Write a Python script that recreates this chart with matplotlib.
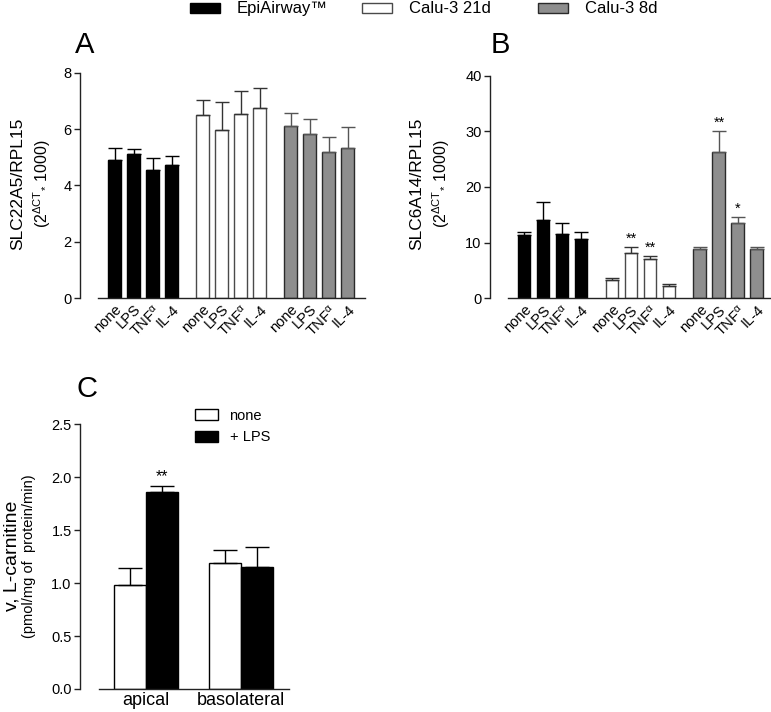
import matplotlib
matplotlib.use('Agg')
import matplotlib.pyplot as plt
from matplotlib.patches import Rectangle
import numpy as np

plt.rcParams['font.family'] = ['Liberation Sans', 'DejaVu Sans']
plt.rcParams['mathtext.fontset'] = 'custom'
plt.rcParams['mathtext.rm'] = 'Liberation Sans'
plt.rcParams['mathtext.it'] = 'Liberation Sans'
plt.rcParams['mathtext.default'] = 'regular'

# data
treatments = ['none', 'LPS', 'TNF$^{α}$', 'IL-4']
groups = ['EpiAirway™', 'Calu-3 21d', 'Calu-3 8d']

slc22a5_mean = [[4.90, 5.12, 4.54, 4.74],
                [6.51, 5.98, 6.52, 6.76],
                [6.09, 5.82, 5.19, 5.32]]
slc22a5_err = [[0.44, 0.18, 0.43, 0.31],
               [0.51, 0.99, 0.82, 0.71],
               [0.47, 0.53, 0.51, 0.76]]

slc6a14_mean = [[11.4, 14.0, 11.5, 10.7],
                [3.2, 8.1, 7.1, 2.2],
                [8.8, 26.3, 13.5, 8.9]]
slc6a14_err = [[0.5, 3.3, 2.0, 1.2],
               [0.5, 1.1, 0.5, 0.3],
               [0.5, 3.8, 1.1, 0.4]]
slc6a14_stars = [['', '', '', ''],
                 ['', '**', '**', ''],
                 ['', '**', '*', '']]

sides = ['apical', 'basolateral']
carn_none = [0.98, 1.19]
carn_none_err = [0.16, 0.12]
carn_lps = [1.865, 1.15]
carn_lps_err = [0.055, 0.19]
carn_stars = ['**', '']

# styles
fills = ['black', 'white', '#8e8e8e']
edges = ['black', '#4a4a4a', '#2a2a2a']
errcols = ['black', '#333333', '#555555']
group_step = 4.63
W, H = 771, 712


def fig_rect(l, t, r, b):
    return [l / W, 1 - b / H, (r - l) / W, (b - t) / H]


def prism_axes(ax):
    ax.spines['top'].set_visible(False)
    ax.spines['right'].set_visible(False)
    for s in ['left', 'bottom']:
        ax.spines[s].set_linewidth(1.0)
        ax.spines[s].set_color('#222222')
    ax.tick_params(axis='y', direction='out', length=4, width=1.0, labelsize=10.5, pad=2, color='#222222')
    ax.tick_params(axis='x', length=0, pad=3)


def grouped_panel(ax, means, errs, stars, ymax, ystep, xlim, xstart):
    pos_all, lab_all = [], []
    for g in range(3):
        pos = g * group_step + np.arange(4)
        ax.bar(pos, means[g], width=0.68, color=fills[g], edgecolor=edges[g], linewidth=1.0,
               yerr=[np.zeros(4), errs[g]], capsize=5,
               error_kw=dict(ecolor=errcols[g], elinewidth=1.0, capthick=1.0))
        if stars is not None:
            for i in range(4):
                if stars[g][i]:
                    ax.annotate(stars[g][i], (pos[i], means[g][i] + errs[g][i]),
                                xytext=(0, 1), textcoords='offset points',
                                ha='center', va='bottom', fontsize=10.5)
        pos_all += list(pos)
        lab_all += treatments
    ax.set_xlim(*xlim)
    ax.set_ylim(0, ymax)
    ax.set_yticks(np.arange(0, ymax + 0.01, ystep))
    ax.spines['left'].set_bounds(0, ymax)
    ax.spines['bottom'].set_bounds(xstart, xlim[1])
    ax.set_xticks(pos_all)
    ax.set_xticklabels(lab_all, rotation=45, ha='right', va='top', rotation_mode='anchor', fontsize=10.5)
    prism_axes(ax)


fig = plt.figure(figsize=(7.71, 7.12), dpi=100)

axA = fig.add_axes(fig_rect(80, 72.7, 365, 298))
grouped_panel(axA, slc22a5_mean, slc22a5_err, None, 8, 2, (-1.82, 13.18), -0.87)
fig.text(18 / W, 1 - 184 / H, 'SLC22A5/RPL15', rotation=90, ha='center', va='center', fontsize=12.5)
fig.text(42 / W, 1 - 184 / H, '(2$^{\\Delta CT}$$_{*}$ 1000)', rotation=90, ha='center', va='center', fontsize=11.5)

axB = fig.add_axes(fig_rect(490, 75.7, 771, 298.3))
grouped_panel(axB, slc6a14_mean, slc6a14_err, slc6a14_stars, 40, 10, (-1.79, 13.0), -0.84)
fig.text(417 / W, 1 - 184 / H, 'SLC6A14/RPL15', rotation=90, ha='center', va='center', fontsize=12.5)
fig.text(441 / W, 1 - 184 / H, '(2$^{\\Delta CT}$$_{*}$ 1000)', rotation=90, ha='center', va='center', fontsize=11.5)

# panel C
axC = fig.add_axes(fig_rect(80, 424.3, 289, 689))
x = np.arange(len(sides))
bw = 0.337
axC.bar(x - bw / 2, carn_none, width=bw, color='white', edgecolor='black', linewidth=1.0,
        yerr=[np.zeros(2), carn_none_err], capsize=8.5,
        error_kw=dict(ecolor='black', elinewidth=1.0, capthick=1.0), label='none')
axC.bar(x + bw / 2, carn_lps, width=bw, color='black', edgecolor='black', linewidth=1.0,
        yerr=[np.zeros(2), carn_lps_err], capsize=8.5,
        error_kw=dict(ecolor='black', elinewidth=1.0, capthick=1.0), label='+ LPS')
for i, s in enumerate(carn_stars):
    if s:
        axC.annotate(s, (x[i] + bw / 2, carn_lps[i] + carn_lps_err[i]), xytext=(0, 1),
                     textcoords='offset points', ha='center', va='bottom', fontsize=11.5)
axC.set_xlim(-0.695, 1.505)
axC.set_ylim(0, 2.5)
axC.set_yticks(np.arange(0, 2.51, 0.5))
axC.set_yticklabels(['%.1f' % v for v in np.arange(0, 2.51, 0.5)])
axC.spines['left'].set_bounds(0, 2.5)
axC.spines['bottom'].set_bounds(-0.495, 1.505)
axC.set_xticks(x)
axC.set_xticklabels(sides, fontsize=13)
prism_axes(axC)
axC.tick_params(axis='y', labelsize=10.5)
axC.tick_params(axis='x', pad=2)
axC.legend(loc='upper left', bbox_to_anchor=(0.52, 1.08), frameon=False, fontsize=10.5,
           handlelength=1.6, handleheight=0.8, handletextpad=0.8, labelspacing=0.5, borderaxespad=0)
fig.text(12 / W, 1 - 556 / H, 'v, L-carnitine', rotation=90, ha='center', va='center', fontsize=14)
fig.text(29 / W, 1 - 556 / H, '(pmol/mg of  protein/min)', rotation=90, ha='center', va='center', fontsize=10.5)

# panel letters
fig.text(75 / W, 1 - 53 / H, 'A', fontsize=21, va='baseline')
fig.text(491 / W, 1 - 53 / H, 'B', fontsize=21, va='baseline')
fig.text(77 / W, 1 - 397 / H, 'C', fontsize=21, va='baseline')

# top legend
leg_boxes = [(190, 237), (362, 409), (538, 585)]
for g, (bx, tx) in enumerate(leg_boxes):
    fig.add_artist(Rectangle((bx / W, 1 - 13 / H), 30 / W, 10 / H, transform=fig.transFigure,
                             facecolor=fills[g], edgecolor=edges[g], linewidth=1.0))
    fig.text(tx / W, 1 - 8.5 / H, groups[g], ha='left', va='center', fontsize=12)

fig.savefig('out.png', dpi=100)
